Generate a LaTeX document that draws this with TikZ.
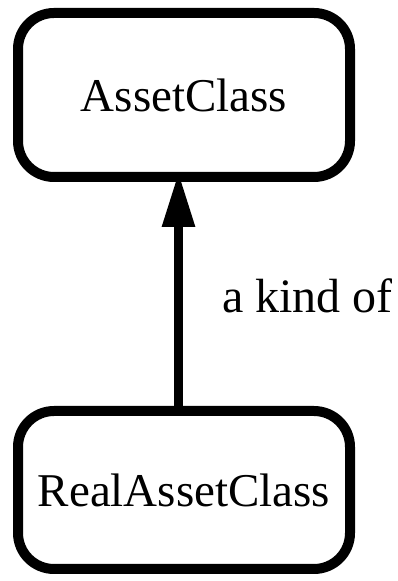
\documentclass[tikz,border=0pt]{standalone}
\usepackage{fontspec}
\setmainfont{Liberation Serif}
\usetikzlibrary{arrows.meta}
\begin{document}
\begin{tikzpicture}[x=1pt,y=1pt,
  classbox/.style={draw=black, line width=10pt, rounded corners=36pt,
    minimum width=332pt, inner sep=0pt, font=\fontsize{47}{56}\selectfont},
  kindof/.style={draw=black, line width=9pt,
    -{Triangle[length=55pt,width=31pt]}},
  lbl/.style={font=\fontsize{48}{56}\selectfont, inner sep=0pt}]
\useasboundingbox (0,0) rectangle (397,581);
\node[classbox, minimum height=164pt] (top) at (184,486) {AssetClass};
\node[classbox, minimum height=158pt] (bot) at (184,91) {RealAssetClass};
\coordinate (tip) at ([xshift=-5.5pt,yshift=10pt]top.south);
\draw[kindof] (bot.north -| tip) -- (tip);
\node[lbl, anchor=base west] (k) at (222,268) {a kind of};
\end{tikzpicture}
\end{document}
